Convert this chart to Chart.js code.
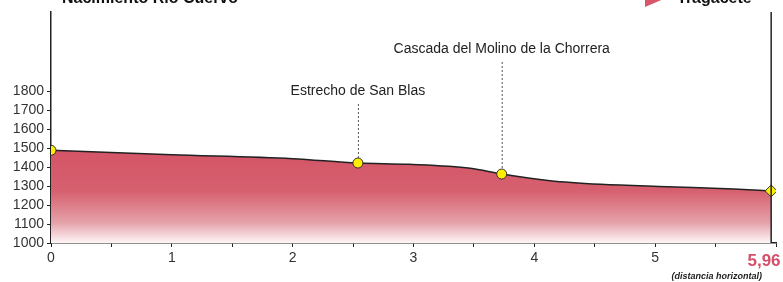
<!DOCTYPE html>
<html>
<head>
<meta charset="utf-8">
<script src="https://cdn.jsdelivr.net/npm/chart.js@4"></script>
<style>
  html, body { margin: 0; padding: 0; background: #fff; }
  #wrap { width: 783px; height: 282px; }
</style>
</head>
<body>
<div id="wrap"><canvas id="perfil" width="783" height="282"></canvas></div>
<script>
// perfil (km, m)
const distancias = [0, 1, 2, 2.54, 2.96, 3.47, 3.73, 4.13, 4.55, 5.1, 5.65, 5.96];
const altitudes  = [1488, 1465, 1444, 1421, 1414, 1393, 1363, 1328, 1309, 1296, 1284, 1274];

// puntos de interés
const hitosKm     = [0, 2.54, 3.73, 5.96];
const hitosAlt    = [1488, 1421, 1363, 1274];
const hitosNombre = ['', 'Estrecho de San Blas', 'Cascada del Molino de la Chorrera', ''];
const hitosTextoY = [0, 91, 49, 0];

const ticksAltitud = [1000, 1100, 1200, 1300, 1400, 1500, 1600, 1700, 1800];
const ticksDist = [0, 0.5, 1, 1.5, 2, 2.5, 3, 3.5, 4, 4.5, 5, 5.5, 6];
const distTotal = '5,96';
const origen = 'Nacimiento Río Cuervo';
const destino = 'Tragacete';

const FONT = 'Liberation Sans, Arial, sans-serif';

const extras = {
  id: 'extras',
  afterDatasetsDraw(chart) {
    const { ctx, scales: { x, y }, chartArea } = chart;
    ctx.save();
    // linea vertical final
    ctx.strokeStyle = '#222';
    ctx.lineWidth = 1.5;
    ctx.beginPath();
    ctx.moveTo(x.getPixelForValue(5.96), chartArea.top);
    ctx.lineTo(x.getPixelForValue(5.96), chartArea.bottom);
    ctx.stroke();

    // etiquetas de hitos
    ctx.font = '14px ' + FONT;
    ctx.fillStyle = '#222';
    ctx.textAlign = 'center';
    ctx.textBaseline = 'middle';
    hitosNombre.forEach((n, i) => {
      if (!n) return;
      const px = x.getPixelForValue(hitosKm[i]);
      const py = y.getPixelForValue(hitosAlt[i]);
      ctx.fillText(n, px, hitosTextoY[i]);
      ctx.save();
      ctx.strokeStyle = '#555';
      ctx.lineWidth = 1;
      ctx.setLineDash([2, 2]);
      ctx.beginPath();
      ctx.moveTo(px + 0.5, hitosTextoY[i] + 13);
      ctx.lineTo(px + 0.5, py - 5);
      ctx.stroke();
      ctx.restore();
    });

    // textos superiores (cortados)
    ctx.font = 'bold 16px ' + FONT;
    ctx.fillStyle = '#111';
    ctx.textAlign = 'left';
    ctx.textBaseline = 'alphabetic';
    ctx.fillText(origen, 62, 3);
    ctx.fillText(destino, 677, 3);
    ctx.fillStyle = '#d9566a';
    ctx.beginPath();
    ctx.moveTo(645, -14);
    ctx.lineTo(666, -2);
    ctx.lineTo(645, 7);
    ctx.closePath();
    ctx.fill();

    // distancia total
    ctx.font = 'bold 17px ' + FONT;
    ctx.fillStyle = '#d4506a';
    ctx.textAlign = 'center';
    ctx.textBaseline = 'middle';
    ctx.fillText(distTotal, 764, 261);
    ctx.font = 'italic bold 9px ' + FONT;
    ctx.fillStyle = '#222';
    ctx.textAlign = 'right';
    ctx.fillText('(distancia horizontal)', 762, 277);
    ctx.restore();
  }
};

new Chart(document.getElementById('perfil'), {
  type: 'line',
  data: {
    datasets: [
      {
        data: hitosKm.map((d, i) => ({ x: d, y: hitosAlt[i] })),
        showLine: false,
        pointStyle: ['circle', 'circle', 'circle', 'rectRot'],
        pointRadius: [5, 5, 5, 6],
        pointBackgroundColor: '#ffee00',
        pointBorderColor: '#333',
        pointBorderWidth: 1,
        order: 0
      },
      {
        data: distancias.map((d, i) => ({ x: d, y: altitudes[i] })),
        borderColor: '#222',
        borderWidth: 1.5,
        pointRadius: 0,
        cubicInterpolationMode: 'monotone',
        fill: 'origin',
        backgroundColor: (c) => {
          const { chart } = c;
          const { ctx, chartArea, scales } = chart;
          if (!chartArea) return '#d45466';
          const g = ctx.createLinearGradient(0, scales.y.getPixelForValue(1500), 0, scales.y.getPixelForValue(1000));
          g.addColorStop(0, '#d45466');
          g.addColorStop(0.45, '#d6606f');
          g.addColorStop(0.78, '#e5a0a8');
          g.addColorStop(1, '#fef6f7');
          return g;
        },
        order: 1
      }
    ]
  },
  options: {
    responsive: false,
    animation: false,
    layout: { padding: { top: 12, right: 7, left: 0, bottom: 0 } },
    plugins: { legend: { display: false }, tooltip: { enabled: false } },
    scales: {
      x: {
        type: 'linear',
        min: 0,
        max: 6,
        afterBuildTicks: (s) => { s.ticks = ticksDist.map(v => ({ value: v })); },
        afterFit: (s) => { s.height = 39; },
        border: { color: '#222', width: 1.5 },
        grid: { drawOnChartArea: false, tickLength: 4, color: '#222' },
        ticks: {
          autoSkip: false,
          maxRotation: 0,
          padding: 3,
          color: '#333',
          font: { size: 14, family: FONT },
          callback: (v) => (Number.isInteger(v) && v <= 5 ? String(v) : '')
        }
      },
      y: {
        min: 1000,
        max: 2216,
        afterBuildTicks: (s) => { s.ticks = ticksAltitud.map(v => ({ value: v })); },
        afterFit: (s) => { s.width = 51; },
        border: { color: '#222', width: 1.5 },
        grid: { drawOnChartArea: false, tickLength: 4, color: '#222' },
        ticks: {
          padding: 3,
          color: '#333',
          font: { size: 14, family: FONT },
          callback: (v) => String(v)
        }
      }
    }
  },
  plugins: [extras]
});
</script>
</body>
</html>
